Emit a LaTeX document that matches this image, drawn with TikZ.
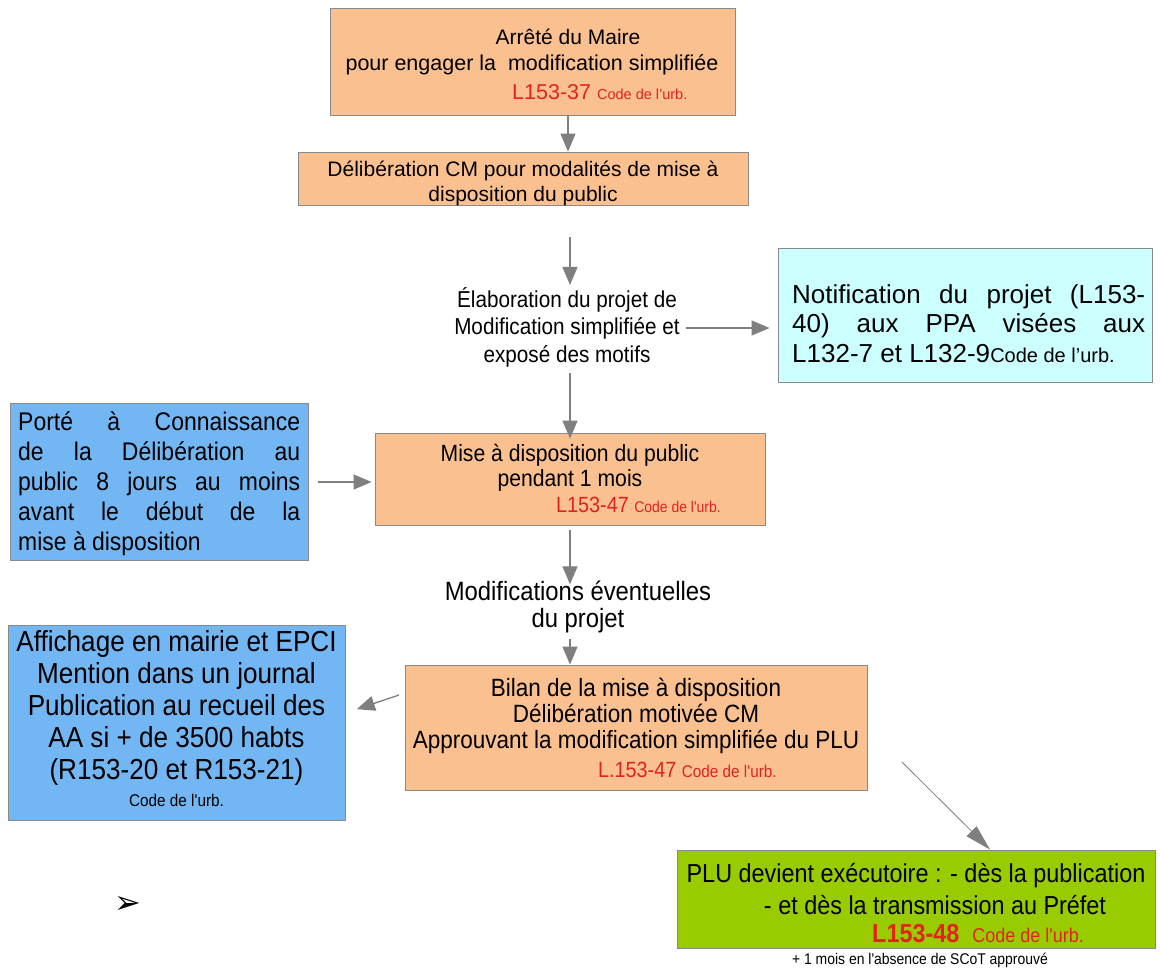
\documentclass[tikz,border=0pt]{standalone}
\usepackage{fontspec}
\setmainfont{Liberation Sans}
\newfontfamily\nar[FakeStretch=0.9]{Liberation Sans}
\newfontfamily\djv{DejaVu Sans}
\usetikzlibrary{arrows.meta}
\definecolor{orng}{HTML}{FAC090}
\definecolor{bluA}{HTML}{72B6F4}
\definecolor{cyn}{HTML}{CCFFFF}
\definecolor{grn}{HTML}{99CC00}
\definecolor{redt}{HTML}{E3231B}
\definecolor{arrg}{HTML}{7F7F7F}
\definecolor{bord}{HTML}{8A8A8A}
\newcommand{\fs}[2]{\fontsize{#1}{#2}\selectfont}
\newcommand{\jl}[2]{\makebox[#1][s]{#2}}
\tikzset{
  x=1pt, y=-1pt,
  box/.style={draw=bord, line width=0.9pt, inner sep=0pt},
  obox/.style={box, fill=orng},
  bbox/.style={box, fill=bluA},
  cbox/.style={box, fill=cyn},
  gbox/.style={box, fill=grn},
  txt/.style={inner sep=0pt, align=center, text=black},
  arr/.style={draw=arrg, line width=1.3pt, -{Triangle[width=15pt,length=18pt]}, arrg},
  thinarr/.style={draw=arrg, line width=0.8pt, -{Triangle[width=14pt,length=26pt]}, arrg}
}
\begin{document}
\begin{tikzpicture}
\useasboundingbox (0,0) rectangle (1160,970);
\fill[white] (0,0) rectangle (1160,970);

% boxes
\node[obox, minimum width=405pt, minimum height=107pt] (b1) at (532.5,61.5) {};
\node[obox, minimum width=450pt, minimum height=53pt] (b2) at (523,178.5) {};
\node[cbox, minimum width=374pt, minimum height=134pt] (n1) at (965,315) {};
\node[obox, minimum width=390pt, minimum height=92pt] (b3) at (570,479) {};
\node[bbox, minimum width=298pt, minimum height=157pt] (p1) at (159,481.5) {};
\node[obox, minimum width=462pt, minimum height=125pt] (b4) at (636,727.5) {};
\node[bbox, minimum width=337pt, minimum height=195pt] (p2) at (176.5,722.5) {};
\node[gbox, minimum width=478pt, minimum height=98pt] (g) at (916,899) {};

% box 1 text
\node[txt, font=\fs{21}{24}] (t1a) at (568,37) {Arrêté du Maire};
\node[txt, font=\fs{21.5}{24}] (t1b) at (532,65) {pour engager la\ \ modification simplifiée};
\node[txt, anchor=west, text=redt] (t1c) at (512,92) {\fs{21.5}{24}L153-37 \fs{14.5}{16}Code de l'urb.};

% box 2 text
\node[txt, font=\fs{21}{25}] (t2) at (523,183) {Délibération CM pour modalités de mise à\\disposition du public};

% elaboration text
\node[txt, font=\nar\fs{23}{27.5}] (elab) at (567,327) {Élaboration du projet de\\Modification simplifiée et\\exposé des motifs};

% cyan text
\node[txt, anchor=north west, align=left, font=\fs{26}{29.5}] (t3) at (792,284) {\jl{353pt}{Notification du projet (L153-}\\\jl{353pt}{40) aux PPA visées aux}\\L132-7 et L132-9{\fs{20}{29.5}Code de l'urb.}};

% box 3 text
\node[txt, font=\nar\fs{23.5}{25}] (t4) at (570,467.5) {Mise à disposition du public\\pendant 1 mois};
\node[txt, anchor=west, text=redt] (t4c) at (556,505) {\nar\fs{22}{24}L153-47 \fs{15.5}{16}Code de l'urb.};

% left blue box 1
\node[txt, anchor=north west, align=left, font=\nar\fs{25.5}{30}] (t5) at (18,412) {\jl{282pt}{Porté à Connaissance}\\\jl{282pt}{de la Délibération au}\\\jl{282pt}{public 8 jours au moins}\\\jl{282pt}{avant le début de la}\\mise à disposition};

% modifications text
\node[txt, font=\nar\fs{26.5}{27}] (mod) at (578,606.5) {Modifications éventuelles\\du projet};

% box 4 text
\node[txt, font=\nar\fs{25}{26}] (t6) at (636,716) {Bilan de la mise à disposition\\Délibération motivée CM\\Approuvant la modification simplifiée du PLU};
\node[txt, anchor=west, text=redt] (t6c) at (598,770) {\nar\fs{22}{24}L.153-47 \fs{17}{18}Code de l'urb.};

% left blue box 2
\node[txt, font=\nar\fs{29}{32}] (t7) at (176.5,708) {Affichage en mairie et EPCI\\Mention dans un journal\\Publication au recueil des\\AA si + de 3500 habts\\(R153-20 et R153-21)};
\node[txt, font=\nar\fs{17}{18}] (t7c) at (176.5,800) {Code de l'urb.};

% green box text
\node[txt, font=\nar\fs{26}{28}] (t8a) at (916,876) {PLU devient exécutoire : - dès la publication};
\node[txt, font=\nar\fs{26}{28}] (t8b) at (935,905) {- et dès la transmission au Préfet};
\node[txt, anchor=west, text=redt] (t8c) at (872,934) {\nar\fs{26}{28}\textbf{L153-48}\ \ \fs{20}{20}Code de l'urb.};
\node[txt, font=\nar\fs{15.5}{18}] (t9) at (920,960) {+ 1 mois en l'absence de SCoT approuvé};

% stray bullet
\node[txt, font=\djv\fs{32}{34}] (bul) at (128,905) {➢};

% connectors
\coordinate (s2) at (570,237);
\coordinate (s7) at (399,695);
\coordinate (s8) at (902,762);
\draw[arr] (b1.south -| 568,0) -- (b2.north -| 568,0);
\draw[arr] (s2) -- ([yshift=2pt]elab.north -| 570,0);
\draw[arr] ([yshift=-6pt]elab.south -| 570,0) -- ([yshift=-6pt]b3.north -| 570,0);
\draw[arr] (elab.east |- 0,328) ++(6,0) -- ([xshift=-8pt]n1.west |- 0,328);
\draw[arr, shorten <=10pt, shorten >=3pt] (p1.east |- 0,482) -- (b3.west |- 0,482);
\draw[arr] ([yshift=-5pt]b3.south -| 570,0) -- ([yshift=-4pt]mod.north -| 570,0);
\draw[arr] ([yshift=-6pt]mod.south -| 570,0) -- (b4.north -| 570,0);
\draw[arr, shorten >=12pt] (s7) -- (p2.east |- 0,713);
\draw[thinarr] (s8) -- (g.north -| 990,0);
\end{tikzpicture}
\end{document}
